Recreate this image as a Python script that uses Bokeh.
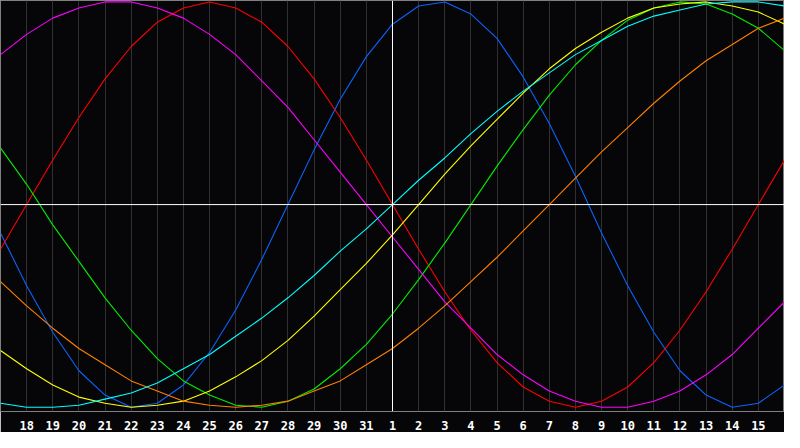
from bokeh.plotting import figure
from bokeh.models import Range1d, FixedTicker, Span
from bokeh.embed import file_html
from bokeh.resources import INLINE

# day labels under each grid line (index 0..28)
day_labels = ["18", "19", "20", "21", "22", "23", "24", "25", "26", "27", "28",
              "29", "30", "31", "1", "2", "3", "4", "5", "6", "7", "8", "9",
              "10", "11", "12", "13", "14", "15"]
# curves run from the day before the first label to the day after the last
day_pos = list(range(-1, 30))

physical = [-14, -40, -63, -82, -94, -100, -98, -89, -73, -52, -27, 0, 27, 52, 73, 89,
            98, 100, 94, 82, 63, 40, 14, -14, -40, -63, -82, -94, -100, -98, -89]
emotional = [-22, 0, 22, 43, 62, 78, 90, 97, 100, 97, 90, 78, 62, 43, 22, 0,
             -22, -43, -62, -78, -90, -97, -100, -97, -90, -78, -62, -43, -22, 0, 22]
intellectual = [28, 10, -10, -28, -46, -62, -76, -87, -94, -99, -100, -97, -91, -81, -69, -54,
                -37, -19, 0, 19, 37, 54, 69, 81, 91, 97, 100, 99, 94, 87, 76]
intuitive = [74, 84, 92, 97, 100, 100, 97, 92, 84, 74, 61, 48, 32, 16, 0, -16,
             -32, -48, -61, -74, -84, -92, -97, -100, -100, -97, -92, -84, -74, -61, -48]
aesthetic = [-72, -81, -89, -95, -98, -100, -99, -97, -92, -85, -77, -67, -55, -42, -29, -15,
             0, 15, 29, 42, 55, 67, 77, 85, 92, 97, 99, 100, 98, 95, 89]
awareness = [-38, -50, -61, -71, -79, -87, -92, -97, -99, -100, -99, -97, -92, -87, -79, -71,
             -61, -50, -38, -26, -13, 0, 13, 26, 38, 50, 61, 71, 79, 87, 92]
spiritual = [-98, -100, -100, -99, -96, -93, -88, -81, -74, -65, -56, -46, -35, -23, -12, 0,
             12, 23, 35, 46, 56, 65, 74, 81, 88, 93, 96, 99, 100, 100, 98]

series = [
    (physical, "#0a64ff"),
    (emotional, "#ff0000"),
    (intellectual, "#00ee00"),
    (intuitive, "#ff00ff"),
    (aesthetic, "#ffff00"),
    (awareness, "#ff7f00"),
    (spiritual, "#00ffff"),
]

bg = "#060608"

p = figure(width=784, height=432, output_backend="svg", toolbar_location=None,
           x_range=Range1d(-1, 29), y_range=Range1d(-102.1, 100.7),
           y_axis_location=None, min_border_left=0, min_border_right=0,
           min_border_top=0, min_border_bottom=19)
p.background_fill_color = bg
p.border_fill_color = bg
p.outline_line_color = "#808080"
p.outline_line_width = 1

p.ygrid.visible = False
p.xgrid.ticker = FixedTicker(ticks=list(range(len(day_labels))))
p.xgrid.grid_line_color = "#303030"
p.xgrid.grid_line_width = 1

p.xaxis.ticker = FixedTicker(ticks=list(range(len(day_labels))))
p.xaxis.major_label_overrides = {i: lab for i, lab in enumerate(day_labels)}
p.xaxis.axis_line_color = None
p.xaxis.major_tick_line_color = None
p.xaxis.minor_tick_line_color = None
p.xaxis.major_label_standoff = 3
p.xaxis.major_label_text_color = "white"
p.xaxis.major_label_text_font = "DejaVu Sans Mono"
p.xaxis.major_label_text_font_style = "bold"
p.xaxis.major_label_text_font_size = "12px"

# today marker and zero line
p.add_layout(Span(location=day_labels.index("1"), dimension="height", line_color="white", line_width=1))
p.add_layout(Span(location=0, dimension="width", line_color="white", line_width=1))

for vals, col in series:
    p.line(day_pos, vals, line_color=col, line_width=1.1)

open("out.html", "w").write(file_html(p, INLINE))
